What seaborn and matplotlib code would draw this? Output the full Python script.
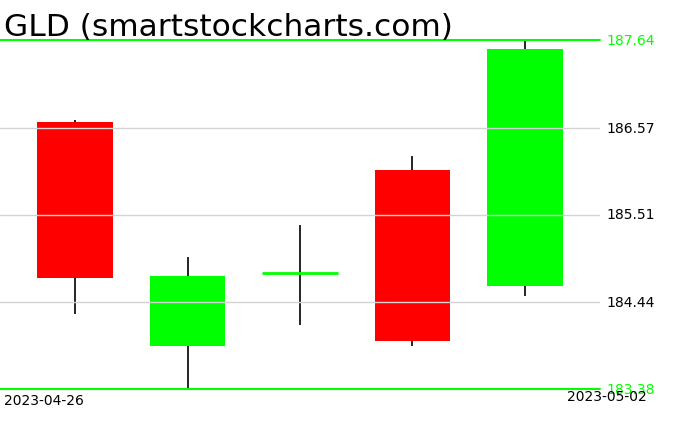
import numpy as np
import pandas as pd
import seaborn as sns
import matplotlib.pyplot as plt

dates = ["2023-04-26", "2023-04-27", "2023-04-28", "2023-05-01", "2023-05-02"]
opens = [186.64, 183.90, 184.80, 186.05, 184.64]
closes = [184.73, 184.76, 184.80, 183.96, 187.53]
highs = [186.66, 184.99, 185.38, 186.22, 187.64]
lows = [184.30, 183.38, 184.16, 183.91, 184.51]
grid_levels = [186.57, 185.51, 184.44]
hi_level = 187.64
lo_level = 183.38

df = pd.DataFrame({"date": dates, "open": opens, "close": closes,
                   "high": highs, "low": lows})
df["x"] = np.arange(len(df))
df["up"] = df["close"] >= df["open"]

sns.set_style("white")
plt.rcParams["font.family"] = ["DejaVu Sans"]
plt.rcParams["text.color"] = "black"

fig = plt.figure(figsize=(6.76, 4.31), dpi=100)
ax = fig.add_axes([0, 41 / 431, 600 / 676, 349 / 431])

# wicks
ax.vlines(df["x"], df["low"], df["high"], color="black", lw=1.2, zorder=1)

# bodies
for _, r in df.iterrows():
    col = "#00ff00" if r["up"] else "#ff0000"
    h = r["close"] - r["open"]
    if abs(h) < 1e-6:
        ax.hlines(r["open"], r["x"] - 0.335, r["x"] + 0.335, color=col, lw=2, zorder=2)
    else:
        ax.bar(r["x"], h, bottom=r["open"], width=0.67, color=col, lw=0, zorder=2)

for g in grid_levels:
    ax.axhline(g, color="#d3d3d3", lw=1, zorder=3)
    ax.text(1.01, g, f"{g:.2f}", transform=ax.get_yaxis_transform(),
            va="center", ha="left", fontsize=10, color="black")
for g in [hi_level, lo_level]:
    ax.axhline(g, color="#00ff00", lw=1.5, zorder=3, clip_on=False)
    ax.text(1.01, g, f"{g:.2f}", transform=ax.get_yaxis_transform(),
            va="center", ha="left", fontsize=10, color="#00ff00")

ax.set_xlim(-0.667, 4.667)
ax.set_ylim(lo_level, hi_level)
ax.set_xticks([])
ax.set_yticks([])
sns.despine(ax=ax, left=True, bottom=True)

fig.text(4 / 676, 1 - 27 / 431, "GLD (smartstockcharts.com)", fontsize=22.5,
         va="center", ha="left", color="black")
fig.text(4 / 676, 1 - 401 / 431, dates[0], fontsize=10, va="center", ha="left")
fig.text(647 / 676, 1 - 397 / 431, dates[-1], fontsize=10, va="center", ha="right")

fig.savefig("out.png", dpi=100)
